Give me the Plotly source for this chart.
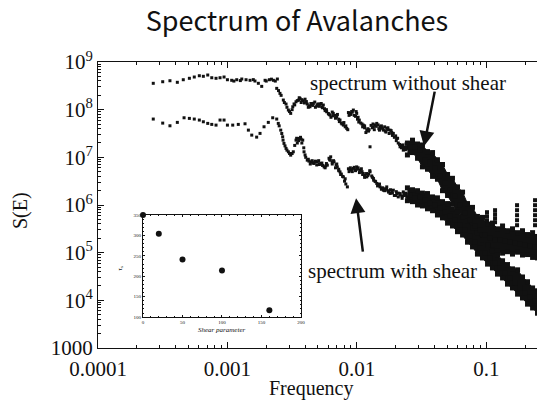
import plotly.graph_objects as go

# ---------------- data (log10 frequency, log10 S(E)) ----------------
# spectrum without shear: low-frequency plateau
lf_ns_flat = [-3.573, -3.500, -3.444, -3.387, -3.341, -3.294, -3.256, -3.217, -3.186, -3.152,
              -3.121, -3.088, -3.057, -3.026, -3.000, -2.967, -2.928, -2.889, -2.856, -2.825,
              -2.787, -2.761, -2.735, -2.709, -2.676, -2.645, -2.614, -2.950, -2.900, -2.800,
              -2.700, -2.660, -2.630]
ls_ns_flat = [8.553, 8.586, 8.607, 8.574, 8.628, 8.658, 8.685, 8.712, 8.700, 8.727,
              8.670, 8.658, 8.670, 8.685, 8.628, 8.616, 8.628, 8.643, 8.628, 8.616,
              8.601, 8.553, 8.489, 8.616, 8.628, 8.616, 8.643, 8.600, 8.610, 8.630,
              8.600, 8.640, 8.600]
# spectrum without shear: drop and mid range
lf_ns_mid = [-2.619, -2.594, -2.568, -2.547, -2.529, -2.511, -2.495, -2.470, -2.439, -2.413,
             -2.383, -2.362, -2.336, -2.310, -2.284, -2.259, -2.233, -2.207, -2.182, -2.155,
             -2.130, -2.104, -2.078, -2.053, -2.027, -2.001, -1.981, -1.950, -1.923, -1.898,
             -1.872, -1.846, -1.821, -1.795, -1.769, -1.743, -1.718, -1.692, -1.666, -1.641,
             -1.614,
             -2.480, -2.450, -2.430, -2.400, -2.370, -2.350, -2.320, -2.300, -2.270, -2.250,
             -2.220, -2.190, -2.170, -2.140, -2.120, -2.090, -2.060, -2.040, -2.010, -1.990,
             -1.960, -1.940, -1.910, -1.880, -1.860, -1.830, -1.810, -1.780, -1.760, -1.730,
             -1.700, -1.680, -1.650, -1.630, -1.600,
             -2.605, -2.585, -2.560, -2.540, -2.520, -2.500, -2.485, -2.460, -2.445, -2.425,
             -2.405, -2.390, -2.375, -2.355, -2.340, -2.325, -2.305, -2.290, -2.275, -2.265,
             -2.245, -2.235, -2.215, -2.200, -2.185, -2.165, -2.150, -2.135, -2.115, -2.100,
             -2.085, -2.070, -2.065, -2.045, -2.035, -2.020, -2.005, -1.995, -1.985, -1.970,
             -1.955, -1.940, -1.930, -1.915, -1.905, -1.890, -1.875, -1.865, -1.850, -1.835,
             -1.825, -1.810, -1.800, -1.785, -1.775, -1.760, -1.750, -1.735, -1.725, -1.710,
             -1.695, -1.685, -1.670, -1.655, -1.645, -1.625, -1.620, -1.605]
ls_ns_mid = [8.447, 8.342, 8.202, 8.118, 7.992, 7.922, 8.061, 8.166, 8.237, 8.187,
             8.118, 8.061, 8.132, 8.076, 8.118, 8.097, 7.956, 7.887, 7.922, 7.851,
             7.782, 7.676, 7.607, 7.922, 7.992, 7.922, 7.782, 7.676, 7.571, 7.221,
             7.641, 7.712, 7.641, 7.571, 7.607, 7.571, 7.502, 7.397, 7.221, 7.151,
             7.221,
             8.100, 8.200, 8.150, 8.220, 8.080, 8.100, 8.050, 8.120, 8.060, 8.020,
             7.920, 7.950, 7.880, 7.800, 7.720, 7.640, 7.880, 7.960, 7.860, 7.840,
             7.700, 7.620, 7.550, 7.620, 7.680, 7.600, 7.620, 7.550, 7.620, 7.520,
             7.450, 7.300, 7.250, 7.180, 7.250,
             8.400, 8.300, 8.150, 8.050, 7.960, 8.000, 8.120, 8.190, 8.250, 8.210,
             8.140, 8.170, 8.050, 8.130, 8.090, 8.160, 8.100, 8.070, 8.130, 8.040,
             7.980, 8.000, 7.900, 7.840, 7.870, 7.820, 7.900, 7.750, 7.700, 7.730,
             7.660, 7.580, 7.940, 7.900, 7.950, 7.880, 7.960, 7.800, 7.740, 7.720,
             7.640, 7.660, 7.520, 7.600, 7.580, 7.670, 7.700, 7.580, 7.650, 7.680,
             7.570, 7.660, 7.600, 7.640, 7.530, 7.580, 7.500, 7.560, 7.460, 7.420,
             7.350, 7.400, 7.270, 7.200, 7.260, 7.160, 7.280, 7.190]

# spectrum with shear: plateau, bump and mid range
lf_ws_mid = [-3.573, -3.500, -3.444, -3.387, -3.335, -3.294, -3.256, -3.217, -3.186, -3.152,
             -3.121, -3.088, -3.057, -3.026, -3.000, -2.959, -2.916, -2.864, -2.838, -2.812,
             -2.774, -2.748, -2.717, -2.684, -2.650, -2.619, -2.607, -2.588, -2.573, -2.563,
             -2.547, -2.529, -2.511, -2.491, -2.470, -2.444, -2.418, -2.408, -2.383, -2.356,
             -2.331, -2.305, -2.279, -2.253, -2.228, -2.202, -2.176, -2.151, -2.130, -2.104,
             -2.073, -2.053, -2.027, -2.001, -1.975, -1.950, -1.923, -1.898, -1.872, -1.846,
             -1.821, -1.795, -1.769, -1.743, -1.718, -1.692, -1.666, -1.641, -1.614,
             -2.460, -2.430, -2.400, -2.370, -2.340, -2.320, -2.290, -2.270, -2.240, -2.210,
             -2.190, -2.160, -2.140, -2.120, -2.090, -2.060, -2.040, -2.010, -1.990, -1.960,
             -1.940, -1.910, -1.880, -1.860, -1.830, -1.810, -1.780, -1.760, -1.730, -1.700,
             -1.680, -1.650, -1.630, -1.600,
             -2.600, -2.580, -2.570, -2.555, -2.540, -2.520, -2.500, -2.480, -2.465, -2.450,
             -2.435, -2.425, -2.410, -2.395, -2.375, -2.360, -2.345, -2.325, -2.310, -2.295,
             -2.285, -2.265, -2.245, -2.235, -2.215, -2.205, -2.190, -2.180, -2.165, -2.155,
             -2.140, -2.125, -2.110, -2.095, -2.085, -2.065, -2.050, -2.035, -2.020, -2.010,
             -1.995, -1.980, -1.965, -1.955, -1.940, -1.925, -1.915, -1.900, -1.885, -1.870,
             -1.855, -1.840, -1.825, -1.810, -1.800, -1.785, -1.770, -1.755, -1.740, -1.725,
             -1.710, -1.695, -1.680, -1.665, -1.650, -1.635, -1.620, -1.605]
ls_ws_mid = [7.803, 7.718, 7.662, 7.733, 7.830, 7.817, 7.803, 7.782, 7.746, 7.712,
             7.691, 7.676, 7.782, 7.782, 7.676, 7.676, 7.691, 7.704, 7.571, 7.466,
             7.424, 7.502, 7.641, 7.733, 7.830, 7.803, 7.712, 7.571, 7.431, 7.292,
             7.187, 7.116, 7.046, 7.116, 7.361, 7.397, 7.361, 7.116, 6.941, 6.905,
             6.872, 6.905, 6.872, 6.800, 6.836, 7.011, 6.905, 6.800, 6.695, 6.590,
             6.380, 6.731, 6.767, 6.800, 6.731, 6.662, 6.590, 6.695, 6.557, 6.452,
             6.380, 6.311, 6.380, 6.242, 6.311, 6.242, 6.206, 6.275, 6.170,
             7.300, 7.380, 7.050, 6.920, 6.880, 6.920, 6.850, 6.880, 6.820, 6.950,
             6.900, 6.840, 6.750, 6.650, 6.550, 6.700, 6.740, 6.720, 6.780, 6.700,
             6.620, 6.650, 6.580, 6.500, 6.420, 6.350, 6.340, 6.300, 6.280, 6.200,
             6.250, 6.180, 6.240, 6.150,
             7.660, 7.500, 7.360, 7.240, 7.150, 7.080, 7.080, 7.250, 7.400, 7.350,
             7.420, 7.300, 7.200, 7.000, 6.960, 6.860, 6.930, 6.900, 6.840, 6.930,
             6.860, 6.830, 6.780, 6.870, 6.980, 6.940, 6.860, 6.930, 6.780, 6.860,
             6.720, 6.640, 6.600, 6.500, 6.440, 6.760, 6.780, 6.700, 6.790, 6.740,
             6.750, 6.680, 6.760, 6.640, 6.580, 6.660, 6.620, 6.720, 6.610, 6.520,
             6.490, 6.400, 6.440, 6.330, 6.360, 6.300, 6.330, 6.270, 6.320, 6.250,
             6.200, 6.280, 6.170, 6.240, 6.140, 6.200, 6.220, 6.120]

# high-frequency dense region: band centre and ragged band edges
lf_hi_c = [-1.628, -1.589, -1.550, -1.512, -1.473, -1.434, -1.396, -1.357, -1.318, -1.280,
           -1.241, -1.202, -1.164, -1.125, -1.087, -1.048, -1.009, -0.971, -0.932, -0.893,
           -0.855, -0.816, -0.777, -0.739, -0.700, -0.662, -0.623, -0.584, -0.546]
lf_hi_e = [-1.609, -1.570, -1.531, -1.493, -1.454, -1.415, -1.377, -1.338, -1.299, -1.261,
           -1.222, -1.183, -1.145, -1.106, -1.068, -1.029, -0.990, -0.952, -0.913, -0.874,
           -0.836, -0.797, -0.758, -0.720, -0.681, -0.642, -0.604, -0.565, -0.527]
ls_ns_hi_c = [7.193, 7.214, 7.214, 7.151, 6.941, 6.899, 6.773, 6.605, 6.458, 6.311,
              6.185, 5.996, 5.828, 5.681, 5.555, 5.471, 5.366, 5.303, 5.261, 5.261,
              5.240, 5.218, 5.197, 5.176, 5.155, 5.134, 5.113, 5.092, 5.071]
ls_ns_hi_top = [7.30, 7.36, 7.28, 7.26, 7.12, 7.10, 6.95, 6.85, 6.64, 6.56,
                6.38, 6.27, 6.03, 5.95, 5.76, 5.74, 5.60, 5.62, 5.50, 5.56,
                5.46, 5.50, 5.42, 5.46, 5.38, 5.42, 5.34, 5.37, 5.30]
ls_ns_hi_bot = [7.05, 7.10, 6.98, 6.80, 6.75, 6.60, 6.54, 6.30, 6.20, 6.02,
                5.90, 5.74, 5.62, 5.41, 5.32, 5.20, 5.15, 5.05, 5.04, 4.99,
                5.02, 4.97, 5.01, 4.95, 4.96, 4.90, 4.89, 4.83, 4.82]
ls_ws_hi_c = [6.227, 6.206, 6.143, 6.164, 6.101, 6.038, 5.996, 5.933, 5.849, 5.765,
              5.681, 5.576, 5.471, 5.345, 5.218, 5.092, 4.987, 4.882, 4.777, 4.672,
              4.567, 4.462, 4.357, 4.252, 4.147, 4.063, 3.979, 3.895, 3.832]
ls_ws_hi_top = [6.36, 6.32, 6.30, 6.25, 6.24, 6.17, 6.15, 6.07, 6.03, 5.92,
                5.86, 5.75, 5.67, 5.52, 5.42, 5.27, 5.17, 5.04, 4.96, 4.83,
                4.75, 4.66, 4.64, 4.49, 4.39, 4.26, 4.20, 4.09, 4.05]
ls_ws_hi_bot = [6.09, 6.07, 6.00, 5.98, 5.92, 5.88, 5.79, 5.73, 5.62, 5.56,
                5.44, 5.37, 5.22, 5.12, 4.97, 4.89, 4.76, 4.68, 4.55, 4.47,
                4.34, 4.26, 4.13, 4.05, 3.92, 3.84, 3.73, 3.67, 3.57]

# narrow spikes of the unsheared spectrum near 0.1-0.3
lf_spikes = [-0.994, -0.994, -0.994, -0.932, -0.932, -0.932, -0.932,
             -0.762, -0.762, -0.762, -0.762, -0.762,
             -0.623, -0.623, -0.623, -0.623, -0.623, -0.623]
ls_spikes = [5.849, 5.765, 5.681, 5.891, 5.807, 5.723, 5.639,
             5.996, 5.891, 5.786, 5.681, 5.576,
             6.101, 5.996, 5.891, 5.786, 5.681, 5.576]

# inset
shear_param = [0, 20, 50, 100, 160]
tau_values = [350, 304, 241, 214, 117]

x_tickvals = [1e-4, 1e-3, 1e-2, 1e-1]
x_ticktext = ["0.0001", "0.001", "0.01", "0.1"]
y_tickvals = [1e3, 1e4, 1e5, 1e6, 1e7, 1e8, 1e9]
y_ticktext = ["1000", "10<sup>4</sup>", "10<sup>5</sup>", "10<sup>6</sup>",
              "10<sup>7</sup>", "10<sup>8</sup>", "10<sup>9</sup>"]


def lin(values):
    return [10 ** v for v in values]


INK = "#111111"
SERIF = "Liberation Serif, Times New Roman, serif"

fig = go.Figure()


def add_pts(lf, ls, size):
    fig.add_trace(go.Scatter(
        x=lin(lf), y=lin(ls), mode="markers", showlegend=False,
        marker=dict(symbol="square", size=size, color=INK, line=dict(width=0)),
        xaxis="x", yaxis="y", hoverinfo="skip"))


def add_band(lf, top, bot):
    fig.add_trace(go.Scatter(
        x=lin(lf), y=lin(top), mode="lines+markers", showlegend=False,
        line=dict(width=1, color=INK),
        marker=dict(symbol="square", size=5, color=INK, line=dict(width=0)),
        hoverinfo="skip"))
    fig.add_trace(go.Scatter(
        x=lin(lf), y=lin(bot), mode="lines+markers", showlegend=False, fill="tonexty",
        fillcolor=INK, line=dict(width=1, color=INK),
        marker=dict(symbol="square", size=5, color=INK, line=dict(width=0)),
        hoverinfo="skip"))


add_pts(lf_ns_flat, ls_ns_flat, 3)
add_pts(lf_ns_mid, ls_ns_mid, 3)
add_pts(lf_ws_mid, ls_ws_mid, 3)
add_band(lf_hi_e, ls_ns_hi_top, ls_ns_hi_bot)
add_band(lf_hi_e, ls_ws_hi_top, ls_ws_hi_bot)
add_pts(lf_hi_c, ls_ns_hi_c, 5)
add_pts(lf_hi_c, ls_ws_hi_c, 5)
add_pts(lf_spikes, ls_spikes, 4)

fig.add_trace(go.Scatter(
    x=shear_param, y=tau_values, mode="markers", showlegend=False,
    marker=dict(symbol="circle", size=6, color=INK),
    xaxis="x2", yaxis="y2", cliponaxis=False, hoverinfo="skip"))

x_minor = [m * 10 ** e for e in (-4, -3, -2, -1) for m in range(2, 10)]
y_minor = [m * 10 ** e for e in (3, 4, 5, 6, 7, 8) for m in range(2, 10)]

fig.update_layout(
    width=537, height=392,
    margin=dict(l=90, r=0, t=54, b=52, autoexpand=False),
    paper_bgcolor="white", plot_bgcolor="white",
    title=dict(text="Spectrum of Avalanches", x=0.538, xanchor="center",
               y=0.966, yanchor="middle",
               font=dict(family="Noto Sans CJK KR, Noto Sans, sans-serif", size=27, color="#111")),
    xaxis=dict(type="log", range=[-4, -0.546], showline=True, linecolor=INK, linewidth=1,
               mirror="ticks", ticks="inside", ticklen=6, tickcolor=INK, automargin=False,
               tickvals=x_tickvals, ticktext=x_ticktext, showgrid=False, zeroline=False,
               tickfont=dict(family=SERIF, size=21, color=INK), ticklabelstandoff=2,
               minor=dict(ticks="inside", ticklen=3, tickcolor=INK, tickvals=x_minor,
                          showgrid=False)),
    yaxis=dict(type="log", range=[3, 9], showline=True, linecolor=INK, linewidth=1,
               mirror=False, ticks="inside", ticklen=6, tickcolor=INK, automargin=False,
               tickvals=y_tickvals, ticktext=y_ticktext, showgrid=False, zeroline=False,
               tickfont=dict(family=SERIF, size=21, color=INK), ticklabelstandoff=0,
               minor=dict(ticks="inside", ticklen=3, tickcolor=INK, tickvals=y_minor,
                          showgrid=False)),
    xaxis2=dict(domain=[0.1007, 0.454], anchor="y2", range=[0, 200], showline=True,
                linecolor=INK, linewidth=1, mirror="ticks", ticks="inside", ticklen=2,
                tickcolor=INK, tickvals=[0, 50, 100, 150, 200], showgrid=False,
                zeroline=False, automargin=False, tickfont=dict(family=SERIF, size=5, color=INK),
                minor=dict(ticks="inside", ticklen=1, tickcolor=INK, dtick=10)),
    yaxis2=dict(domain=[0.108, 0.465], anchor="x2", range=[100, 350], showline=True,
                linecolor=INK, linewidth=1, mirror="ticks", ticks="inside", ticklen=2,
                tickcolor=INK, tickvals=[100, 150, 200, 250, 300, 350], showgrid=False,
                zeroline=False, automargin=False, tickfont=dict(family=SERIF, size=5, color=INK),
                minor=dict(ticks="inside", ticklen=1, tickcolor=INK, dtick=10)),
)

C = dict(xanchor="center", yanchor="middle", showarrow=False)
ann = [
    dict(text="S(E)", xref="paper", yref="paper", x=-0.1745, y=0.4825, textangle=-90,
         font=dict(family=SERIF, size=20, color=INK), **C),
    dict(text="Frequency", xref="paper", yref="paper", x=0.4765, y=-0.143,
         font=dict(family=SERIF, size=20, color=INK), **C),
    dict(text="spectrum without shear", xref="paper", yref="paper", x=0.6935, y=0.9266,
         font=dict(family=SERIF, size=21, color=INK), **C),
    dict(text="spectrum with shear", xref="paper", yref="paper", x=0.658, y=0.269,
         font=dict(family=SERIF, size=21, color=INK), **C),
    dict(text="", xref="x", yref="y", x=-1.481, y=7.235, ax=11, ay=-56,
         showarrow=True, arrowhead=2, arrowsize=1.2, arrowwidth=2.5, arrowcolor=INK),
    dict(text="", xref="x", yref="y", x=-2.006, y=6.143, ax=7, ay=55,
         showarrow=True, arrowhead=2, arrowsize=1.2, arrowwidth=2.5, arrowcolor=INK),
    dict(text="<i>Shear parameter</i>", xref="x2", yref="paper", x=100, y=0.063,
         font=dict(family=SERIF, size=7, color=INK), **C),
    dict(text="τ<sub>s</sub>", xref="paper", yref="paper", x=0.049, y=0.28, textangle=-90,
         font=dict(family=SERIF, size=7, color=INK), **C),
]
fig.update_layout(annotations=ann)

fig.write_html("out.html")
